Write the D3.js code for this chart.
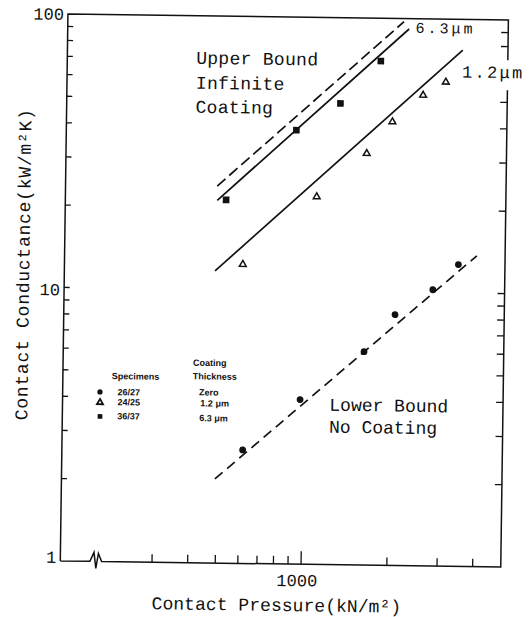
<!DOCTYPE html>
<html>
<head>
<meta charset="utf-8">
<script src="https://cdn.jsdelivr.net/npm/d3@7"></script>
<style>
  html, body { margin: 0; padding: 0; background: #fff; }
  svg { display: block; }
  .mono { font-family: "Liberation Mono", "DejaVu Sans Mono", monospace; fill: #111; }
  .leg { font-family: "Liberation Sans", Arial, sans-serif; font-weight: bold; font-size: 9px; fill: #111; }
</style>
</head>
<body>
<script>
// Contact pressure (kN/m²) and contact conductance (kW/m²K) per specimen pair
const uncoatedP   = [616, 974, 1624, 2077, 2811, 3446];      // 26/27, zero coating
const uncoatedC   = [2.60, 4.00, 6.03, 8.27, 10.24, 12.7];
const coat12P     = [604, 1089, 1623, 1990, 2543, 3050];     // 24/25, 1.2 μm
const coat12C     = [12.4, 22.1, 32.0, 41.9, 52.6, 58.9];
const coat63P     = [524, 917, 1305, 1800];                  // 36/37, 6.3 μm
const coat63C     = [21.3, 38.6, 48.6, 69.8];

// Fitted / theoretical lines: [pressure, conductance] end points
const upperBound  = [[487, 23.9], [2162, 97.5]];   // infinite coating
const fit63       = [[488, 21.2], [2254, 91.7]];
const fit12       = [[483, 11.7], [3486, 77.3]];
const lowerBound  = [[494, 2.03], [3995, 13.7]];   // no coating

// Axis ticks
const xTicks      = [300, 400, 500, 600, 700, 800, 900, 1000, 2000, 3000, 4000];
const xTickLabels = [1000];
const yTicks      = [2, 3, 4, 5, 6, 7, 8, 9, 10, 20, 30, 40, 50, 60, 70, 80, 90];
const yTickLabels = [1, 10, 100];

const W = 529, H = 617;
const L = 64.1, R = 504.6, T = 17, B = 564;

const x = d3.scaleLog().domain([143, 5020]).range([L, R]);
const y = d3.scaleLog().domain([1, 100]).range([B, T]);

const svg = d3.select("body").append("svg").attr("width", W).attr("height", H);
const g = svg.append("g").attr("transform", "rotate(0.8,284.4,290)");

// frame (bottom edge carries an axis break near the left)
g.append("path")
  .attr("d", `M${L},${B}V${T}H${R}V${B}H${L + 41.3}l-3.3,-8l-2.4,15l-2,-16l-4,9H${L}`)
  .attr("fill", "none").attr("stroke", "#111").attr("stroke-width", 1.5)
  .attr("stroke-linejoin", "miter");

// ticks
const tk = g.append("g").attr("stroke", "#111").attr("stroke-width", 1.3);
tk.selectAll("line.xt").data(xTicks).join("line")
  .attr("x1", d => x(d)).attr("x2", d => x(d))
  .attr("y1", B).attr("y2", d => B - (d === 1000 ? 13 : 8));
tk.selectAll("line.yl").data(yTicks).join("line")
  .attr("x1", L).attr("x2", L + 5.5)
  .attr("y1", d => y(d)).attr("y2", d => y(d));
tk.selectAll("line.yr").data(yTicks).join("line")
  .attr("x1", R).attr("x2", R - 7)
  .attr("y1", d => y(d)).attr("y2", d => y(d));

// tick labels
g.selectAll("text.yl").data(yTickLabels).join("text")
  .attr("class", "mono").attr("font-size", 17)
  .attr("text-anchor", "end")
  .attr("x", L - 4).attr("y", d => y(d) + (d === 1 ? 2 : 6) + (d === 10 ? 2 : 0))
  .text(d => d);
g.selectAll("text.xl").data(xTickLabels).join("text")
  .attr("class", "mono").attr("font-size", 17)
  .attr("text-anchor", "middle")
  .attr("x", d => x(d) - 4).attr("y", B + 22)
  .text(d => d);

// axis titles
g.append("text").attr("class", "mono").attr("font-size", 18)
  .attr("letter-spacing", 0.05)
  .attr("x", 156).attr("y", 611)
  .text("Contact Pressure(kN/m²)");
g.append("text").attr("class", "mono").attr("font-size", 18)
  .attr("letter-spacing", 0.75)
  .attr("text-anchor", "middle")
  .attr("transform", "translate(29,268) rotate(-90)")
  .text("Contact Conductance(kW/m²K)");

// lines
const line = d3.line().x(d => x(d[0])).y(d => y(d[1]));
const drawLine = (pts, dash) => g.append("path")
  .attr("d", line(pts)).attr("fill", "none")
  .attr("stroke", "#111").attr("stroke-width", 1.7)
  .attr("stroke-dasharray", dash);
drawLine(upperBound, "11,5");
drawLine(fit63, null);
drawLine(fit12, null);
drawLine(lowerBound, "10,6");

// data points
const pts = (P, C) => P.map((p, i) => [p, C[i]]);
const sym = (type, size) => d3.symbol().type(type).size(size)();
g.selectAll("path.c").data(pts(uncoatedP, uncoatedC)).join("path")
  .attr("d", sym(d3.symbolCircle, 36)).attr("fill", "#111")
  .attr("transform", d => `translate(${x(d[0])},${y(d[1])})`);
g.selectAll("path.t").data(pts(coat12P, coat12C)).join("path")
  .attr("d", sym(d3.symbolTriangle, 20)).attr("fill", "#fff")
  .attr("stroke", "#111").attr("stroke-width", 1.5)
  .attr("transform", d => `translate(${x(d[0])},${y(d[1])})`);
g.selectAll("path.s").data(pts(coat63P, coat63C)).join("path")
  .attr("d", sym(d3.symbolSquare, 44)).attr("fill", "#111")
  .attr("transform", d => `translate(${x(d[0])},${y(d[1])})`);

// line labels
const label = (txt, px, py, size, ls) => g.append("text")
  .attr("class", "mono").attr("font-size", size)
  .attr("letter-spacing", ls).attr("x", px).attr("y", py).text(txt);
g.append("rect").attr("x", 459).attr("y", 57).attr("width", 70).attr("height", 30).attr("fill", "#fff");
label("1.2μm", 459, 75, 17, 2.3);
label("6.3μm", 412, 31, 15, 3);
label("Upper Bound", 193, 65, 18, 0.3);
label("Infinite", 193, 90, 18, 0.3);
label("Coating", 193, 114, 18, 0.3);
label("Lower Bound", 331, 410, 18, 0);
label("No Coating", 331, 432, 18, 0);

// legend
const leg = g.append("g");
const legText = (txt, px, py) => leg.append("text").attr("class", "leg").attr("x", px).attr("y", py).text(txt);
legText("Specimens", 113, 381.5);
legText("Coating", 194, 367);
legText("Thickness", 194, 380.5);
legText("26/27", 119, 397.5);
legText("24/25", 119, 407.5);
legText("36/37", 119, 421.5);
legText("Zero", 200.5, 396.5);
legText("1.2 μm", 202, 407.5);
legText("6.3 μm", 201, 422.3);
leg.append("path").attr("d", sym(d3.symbolCircle, 22)).attr("fill", "#111")
  .attr("transform", "translate(101.4,394.5)");
leg.append("path").attr("d", sym(d3.symbolTriangle, 16)).attr("fill", "#fff")
  .attr("stroke", "#111").attr("stroke-width", 1.8)
  .attr("transform", "translate(101.6,405)");
leg.append("path").attr("d", sym(d3.symbolSquare, 22)).attr("fill", "#111")
  .attr("transform", "translate(101.8,419)");
</script>
</body>
</html>
